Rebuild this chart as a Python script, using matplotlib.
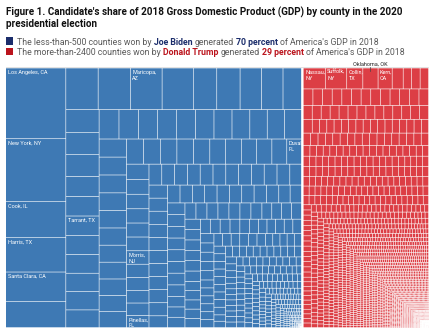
import numpy as np
import matplotlib
matplotlib.use("Agg")
import matplotlib.pyplot as plt
from matplotlib.collections import PolyCollection

# ---------------- data: 2018 county GDP ($ billions) ----------------
biden_top_gdp = [714, 632, 367, 347, 296, 265,
                 226, 225, 222, 218, 164, 163, 150, 150, 129,
                 127, 125, 122, 112, 109, 108, 107, 105, 103, 102, 99,
                 98, 96, 95, 94, 93, 91, 89, 88, 86, 85, 84,
                 83, 82, 82, 81, 80, 79, 78, 77, 76, 74, 73,
                 72, 71, 70, 70, 69, 67, 66, 65, 64, 63, 62,
                 58, 56, 55, 54, 53, 52, 51, 50, 49, 48, 47, 46]
biden_labels = {0: "Los Angeles, CA", 1: "New York, NY", 2: "Cook, IL", 3: "Harris, TX",
                4: "Santa Clara, CA", 8: "Maricopa,\nAZ", 20: "Tarrant, TX",
                58: "Duval,\nFL", 65: "Morris,\nNJ", 70: "Pinellas,\nFL"}
# smaller Biden counties: GDP level and number of counties at that level
biden_tail_gdp = [45, 41, 37, 34, 30, 27, 24, 21, 18, 15, 12.5, 10, 8, 6.3, 4.8, 3.5,
                  2.4, 1.5, 1.0, 0.6, 0.35, 0.15]
biden_tail_count = [11, 11, 10, 10, 10, 10, 10, 11, 12, 14, 16, 18, 20, 22, 25, 28,
                    30, 30, 25, 25, 20, 15]

trump_top_gdp = [78, 76, 57, 54, 50, 39, 30, 30, 30]
trump_labels = {0: "Nassau,\nNY", 1: "Suffolk,\nNY", 2: "Collin,\nTX", 4: "Kern,\nCA"}
trump_callout = {3: "Oklahoma, OK"}
trump_tail_gdp = [27, 21, 17, 15.5, 12, 11.2, 10.5, 10, 9.5, 9, 8.3,
                  7.0, 6.2, 5.5, 4.8, 4.2, 3.7, 3.2, 2.8, 2.4, 2.05, 1.75, 1.5, 1.28,
                  1.08, 0.9, 0.75, 0.6, 0.45, 0.32, 0.2, 0.1]
trump_tail_count = [13, 15, 16, 17, 17, 18, 18, 18, 18, 18, 18,
                    14, 16, 20, 24, 28, 34, 40, 48, 60, 74, 88, 115, 135,
                    160, 190, 220, 240, 250, 230, 170, 110]

title_lines = ["Figure 1. Candidate's share of 2018 Gross Domestic Product (GDP) by county in the 2020",
               "presidential election"]
legend_lines = [
    [("The less-than-500 counties won by", "grey"), ("Joe Biden", "blue"), ("generated", "grey"),
     ("70 percent", "blue"), ("of America's GDP in 2018", "grey")],
    [("The more-than-2400 counties won by", "grey"), ("Donald Trump", "red"), ("generated", "grey"),
     ("29 percent", "red"), ("of America's GDP in 2018", "grey")],
]

# ---------------- styling ----------------
BLUE = "#3e79b4"
RED = "#dc3e45"
NAVY = "#1b2d6b"
DKRED = "#bb141d"
GREY = "#5a5a5a"
FONT = "Roboto"
PHI = (1 + 5 ** 0.5) / 2


def squarify(values, x0, y0, x1, y1, ratio=PHI):
    """d3.treemapSquarify layout."""
    out = []
    n = len(values)
    i0 = i1 = 0
    value = float(sum(values))
    while i0 < n:
        dx, dy = max(x1 - x0, 1e-9), max(y1 - y0, 1e-9)
        sumv = values[i1]
        i1 += 1
        minv = maxv = sumv
        alpha = max(dy / dx, dx / dy) / (max(value, 1e-12) * ratio)
        beta = sumv * sumv * alpha
        min_ratio = max(maxv / beta, beta / minv)
        while i1 < n:
            nv = values[i1]
            sumv += nv
            minv = min(minv, nv)
            maxv = max(maxv, nv)
            beta = sumv * sumv * alpha
            new_ratio = max(maxv / beta, beta / minv)
            if new_ratio > min_ratio:
                sumv -= nv
                break
            min_ratio = new_ratio
            i1 += 1
        row = values[i0:i1]
        if dx < dy:
            yb = y0 + dy * sumv / value if value else y1
            k = (x1 - x0) / sumv
            xx = x0
            for v in row:
                out.append((xx, y0, xx + v * k, yb))
                xx += v * k
            y0 = yb
        else:
            xb = x0 + dx * sumv / value if value else x1
            k = (y1 - y0) / sumv
            yy = y0
            for v in row:
                out.append((x0, yy, xb, yy + v * k))
                yy += v * k
            x0 = xb
        value -= sumv
        i0 = i1
    return out


def shrink(r, p):
    x0, y0, x1, y1 = r[0] + p, r[1] + p, r[2] - p, r[3] - p
    if x1 < x0:
        x0 = x1 = (x0 + x1) / 2
    if y1 < y0:
        y0 = y1 = (y0 + y1) / 2
    return (x0, y0, x1, y1)


def expand(r, p):
    return (r[0] - p, r[1] - p, r[2] + p, r[3] + p)


biden_gdp = list(biden_top_gdp) + list(np.repeat(biden_tail_gdp, biden_tail_count))
trump_gdp = list(trump_top_gdp) + list(np.repeat(trump_tail_gdp, trump_tail_count))

fig = plt.figure(figsize=(4.32, 3.33), dpi=100)
ax = fig.add_axes([0, 0, 1, 1])
ax.set_xlim(0, 432)
ax.set_ylim(333, 0)
ax.axis("off")

ROOT = (6, 68.3, 428.3, 327.3)
P1, P2 = 1.2, 0.3
groups = squarify([sum(biden_gdp), sum(trump_gdp)], *expand(ROOT, P1))
boxes = [shrink(g, P1) for g in groups]

leaf_rects = []
for vals, box, color in [(biden_gdp, boxes[0], BLUE), (trump_gdp, boxes[1], RED)]:
    rects = [shrink(r, P2) for r in squarify(vals, *expand(box, P2))]
    verts = [[(a, b), (c, b), (c, d), (a, d)] for a, b, c, d in rects]
    pc = PolyCollection(verts, facecolors=color, edgecolors="none", antialiased=True)
    pc.set_snap(False)
    ax.add_collection(pc)
    leaf_rects.append(rects)

# faint frame line above the treemap
ax.plot([ROOT[0], ROOT[2]], [67.4, 67.4], color="#dddddd", lw=0.6)

for rects, labels in [(leaf_rects[0], biden_labels), (leaf_rects[1], trump_labels)]:
    for i, name in labels.items():
        x0, y0, x1, y1 = rects[i]
        ax.text(x0 + 1.6, y0 + 1.6, name, color="white", fontsize=4.0, family=FONT,
                va="top", ha="left", linespacing=1.25)

for i, name in trump_callout.items():
    x0, y0, x1, y1 = leaf_rects[1][i]
    xc = (x0 + x1) / 2
    ax.text(xc, 66.0, name, color="#222222", fontsize=4.0, family=FONT, ha="center",
            va="baseline")
    ax.plot([xc, xc], [66.8, 71.0], color="#444444", lw=0.5)

# ---------------- title & legend ----------------
renderer = fig.canvas.get_renderer()


def text_width(s, **kw):
    t = ax.text(0, 0, s, **kw)
    w = t.get_window_extent(renderer).width
    t.remove()
    return w


tsize = 7.0
w = text_width(title_lines[0], fontsize=tsize, fontweight="bold", family=FONT)
tsize *= 397.0 / w
for k, line in enumerate(title_lines):
    ax.text(6, 15.3 + 12.0 * k, line, fontsize=tsize, fontweight="bold", family=FONT,
            color="#111111", va="baseline", ha="left")

cmap = {"grey": (GREY, "normal"), "blue": (NAVY, "bold"), "red": (DKRED, "bold")}


def draw_rich(parts, x, y, size, draw=True):
    space = text_width("a a", fontsize=size, family=FONT) - text_width("aa", fontsize=size, family=FONT)
    for s, key in parts:
        col, wt = cmap[key]
        kw = dict(fontsize=size, family=FONT, fontweight=wt)
        wd = text_width(s, **kw)
        if draw:
            ax.text(x, y, s, color=col, va="baseline", ha="left", **kw)
        x += wd + space
    return x - space


targets = [370.0, 396.0]
ybase = [44.6, 54.8]
sq_col = [NAVY, DKRED]
for k, parts in enumerate(legend_lines):
    size = 6.0
    wline = draw_rich(parts, 0, 0, size, draw=False)
    size *= targets[k] / wline
    draw_rich(parts, 17.0, ybase[k], size)
    ax.add_patch(plt.Rectangle((6.0, ybase[k] - 7.3), 7.3, 7.3, color=sq_col[k], lw=0))

fig.savefig("out.png", dpi=100, facecolor="white")
